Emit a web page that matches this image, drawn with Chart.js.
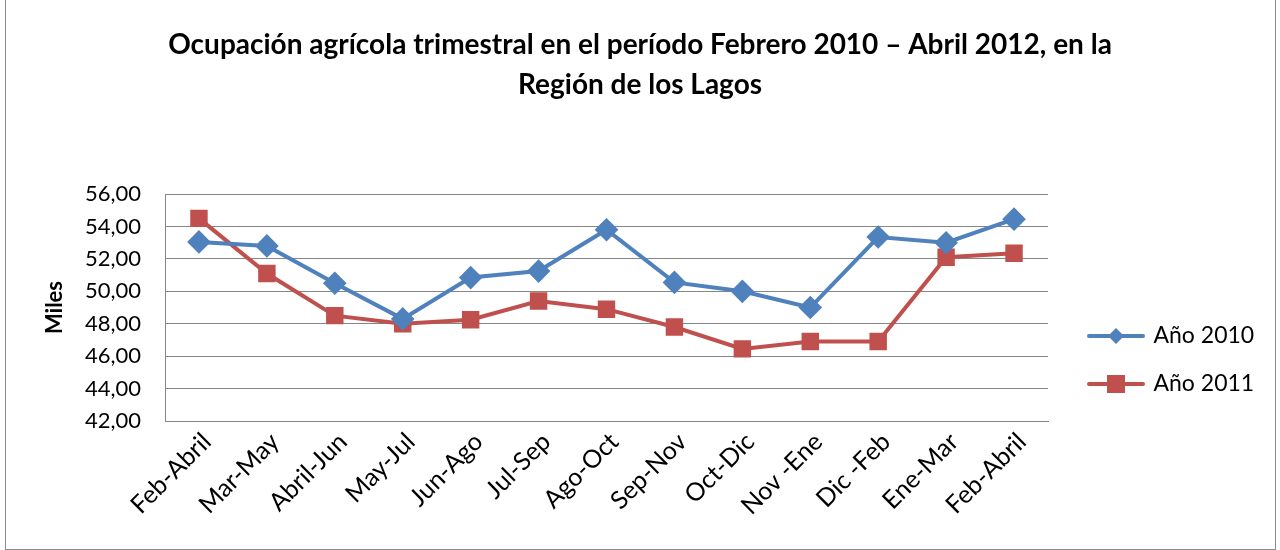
<!DOCTYPE html>
<html>
<head>
<meta charset="utf-8">
<script src="https://cdn.jsdelivr.net/npm/chart.js@4.4.1/dist/chart.umd.min.js"></script>
<style>
  html, body { margin: 0; padding: 0; background: #fff; }
  #wrap { position: absolute; left: 5px; top: -2px; width: 1269px; height: 550px; border: 1px solid #8c8c8c; }
  #c { position: absolute; left: 0; top: 0; }
</style>
</head>
<body>
<div id="wrap"></div>
<canvas id="c" width="1280" height="550"></canvas>
<script>
const categories = ['Feb-Abril', 'Mar-May', 'Abril-Jun', 'May-Jul', 'Jun-Ago', 'Jul-Sep', 'Ago-Oct',
                    'Sep-Nov', 'Oct-Dic', 'Nov -Ene', 'Dic -Feb', 'Ene-Mar', 'Feb-Abril'];
const anio2010 = [53.05, 52.8, 50.5, 48.3, 50.85, 51.25, 53.8, 50.55, 50.0, 49.0, 53.35, 53.0, 54.45];
const anio2011 = [54.5, 51.1, 48.5, 48.0, 48.25, 49.4, 48.9, 47.8, 46.45, 46.9, 46.9, 52.1, 52.35];
const yTicks = [42, 44, 46, 48, 50, 52, 54, 56];

const BLUE = '#4f81bd';
const RED = '#c0504d';
const FONT = "Lato, 'Open Sans', sans-serif";

// legend swatch: line with the marker in the middle
function swatch(color, style) {
    const cv = document.createElement('canvas');
    cv.width = 58; cv.height = 22;
    const g = cv.getContext('2d');
    g.strokeStyle = color; g.lineWidth = 4; g.lineCap = 'round';
    g.beginPath(); g.moveTo(2, 11); g.lineTo(56, 11); g.stroke();
    g.fillStyle = color;
    if (style === 'diamond') {
        g.beginPath(); g.moveTo(29, 3); g.lineTo(37, 11); g.lineTo(29, 19); g.lineTo(21, 11); g.closePath(); g.fill();
    } else {
        g.fillRect(20, 2, 18, 18);
    }
    return cv;
}
const swatches = [swatch(BLUE, 'diamond'), swatch(RED, 'square')];

// legend box: fixed width, moved a bit right and down like the original
const fixLegend = {
    id: 'fixLegend',
    afterInit(chart) {
        const lg = chart.legend;
        const fit = lg.fit;
        lg.fit = function () { fit.call(this); this.width = 232; };
    },
    afterLayout(chart) {
        const lg = chart.legend;
        lg.left += 17; lg.right += 17;
        lg.top += 85; lg.bottom += 85;
    }
};

new Chart(document.getElementById('c'), {
    type: 'line',
    data: {
        labels: categories,
        datasets: [
            { label: 'Año 2010', data: anio2010, borderColor: BLUE, backgroundColor: BLUE, borderWidth: 4,
              pointStyle: 'rectRot', pointRadius: 9, pointHoverRadius: 9, tension: 0, fill: false },
            { label: 'Año 2011', data: anio2011, borderColor: RED, backgroundColor: RED, borderWidth: 4,
              pointStyle: 'rect', pointRadius: 9.5, pointHoverRadius: 9.5, tension: 0, fill: false }
        ]
    },
    options: {
        responsive: false,
        animation: false,
        layout: { padding: 0 },
        plugins: {
            title: {
                display: true,
                text: ['Ocupación agrícola trimestral en el período Febrero 2010 – Abril 2012, en la', 'Región de los Lagos'],
                color: '#000',
                font: { family: FONT, size: 28, weight: 'bold', lineHeight: 1.43 },
                padding: { top: 25, bottom: 89 }
            },
            legend: {
                position: 'right',
                labels: {
                    color: '#000',
                    font: { family: FONT, size: 23 },
                    usePointStyle: true,
                    pointStyleWidth: 52,
                    padding: 25,
                    generateLabels(chart) {
                        return chart.data.datasets.map((ds, i) => ({
                            text: ds.label, pointStyle: swatches[i], datasetIndex: i,
                            fillStyle: ds.borderColor, strokeStyle: ds.borderColor, lineWidth: 0, fontColor: '#000'
                        }));
                    }
                }
            },
            tooltip: { enabled: false }
        },
        scales: {
            x: {
                offset: true,
                afterFit(scale) { scale.height = 129; },
                grid: { display: false, drawTicks: false },
                border: { color: '#868686', width: 1 },
                ticks: { color: '#000', font: { family: FONT, size: 25 }, minRotation: 45, maxRotation: 45,
                         padding: 6, labelOffset: 8 }
            },
            y: {
                min: 42, max: 56,
                afterBuildTicks(scale) { scale.ticks = yTicks.map(v => ({ value: v })); },
                afterFit(scale) { scale.width = 165; },
                grid: { color: '#868686', lineWidth: 1, drawTicks: false },
                border: { color: '#868686', width: 1 },
                ticks: { color: '#000', font: { family: FONT, size: 22 }, padding: 24,
                         callback: v => v.toFixed(2).replace('.', ',') },
                title: { display: true, text: 'Miles', color: '#000', font: { family: FONT, size: 22, weight: 'bold' },
                         padding: { top: 42, bottom: 0 } }
            }
        }
    },
    plugins: [fixLegend]
});
</script>
</body>
</html>
